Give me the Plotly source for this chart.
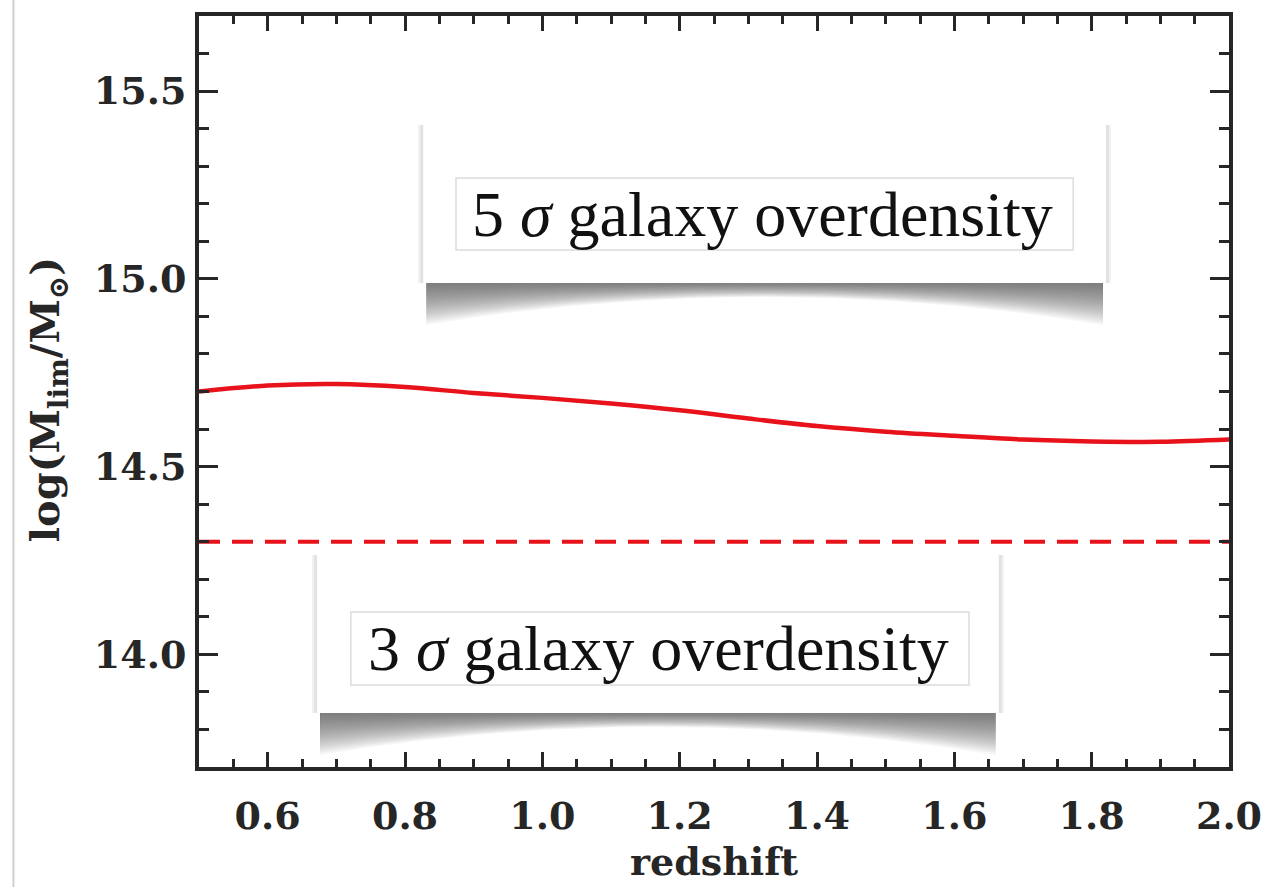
import plotly.graph_objects as go

# ---- data ----
redshift = [0.5, 0.6, 0.7, 0.8, 0.9, 1.0, 1.1, 1.2, 1.3, 1.4, 1.5, 1.6, 1.7, 1.8, 1.9, 2.0]
log_mlim_5sigma = [14.700, 14.716, 14.720, 14.712, 14.696, 14.683, 14.668, 14.650,
                   14.628, 14.608, 14.593, 14.582, 14.572, 14.567, 14.566, 14.572]
dashed_z = [0.5, 2.0]
dashed_level = [14.30, 14.30]
x_tickvals = [0.6, 0.8, 1.0, 1.2, 1.4, 1.6, 1.8, 2.0]
y_tickvals = [14.0, 14.5, 15.0, 15.5]
x_range = [0.5, 2.0]
y_range = [13.7, 15.7]
label_top = "5 <i>σ</i> galaxy overdensity"
label_bottom = "3 <i>σ</i> galaxy overdensity"

W, H = 1274, 887
ML, MR, MT, MB = 199, 37, 16, 120
PW, PH = W - ML - MR, H - MT - MB

def dx(px):
    return x_range[0] + (px - ML) / PW * (x_range[1] - x_range[0])

def dy(py):
    return y_range[1] - (py - MT) / PH * (y_range[1] - y_range[0])

RED = "#e8121b"
AX = "#262626"

fig = go.Figure()
fig.add_trace(go.Scatter(x=redshift, y=log_mlim_5sigma, mode="lines",
                         line=dict(color=RED, width=4.5, shape="spline", smoothing=1.0),
                         showlegend=False, hoverinfo="skip"))
fig.add_trace(go.Scatter(x=dashed_z, y=dashed_level, mode="lines",
                         line=dict(color=RED, width=4, dash="21px,12px"),
                         showlegend=False, hoverinfo="skip"))

shapes = []
annotations = []

def callout(x0, x1, ytop, ybot, ix0, ix1, iy0, iy1, text, tx, ty):
    # soft shadow under the box, curled-page style
    n = 24
    xm = (dx(x0) + dx(x1)) / 2
    for i in range(1, n + 1):
        de = 42 * i / n
        dm = 14 * i / n
        yb = dy(ybot)
        ye = dy(ybot + de)
        ym = dy(ybot + dm)
        yc = 2 * ym - ye
        path = (f"M {dx(x0 + 3)},{yb} L {dx(x1 - 3)},{yb} L {dx(x1 - 3)},{ye} "
                f"Q {xm},{yc} {dx(x0 + 3)},{ye} Z")
        shapes.append(dict(type="path", path=path, xref="x", yref="y",
                           fillcolor="rgba(70,70,70,0.045)", line=dict(width=0),
                           layer="above"))
    # faint side shading
    for k, c in [(5, "#f0f0f0"), (3, "#e2e2e2")]:
        shapes.append(dict(type="rect", xref="x", yref="y",
                           x0=dx(x0 - k), x1=dx(x1 + k), y0=dy(ytop), y1=dy(ybot),
                           fillcolor=c, line=dict(width=0), layer="above"))
    shapes.append(dict(type="rect", xref="x", yref="y",
                       x0=dx(x0), x1=dx(x1), y0=dy(ytop), y1=dy(ybot),
                       fillcolor="white", line=dict(width=0), layer="above"))
    shapes.append(dict(type="rect", xref="x", yref="y",
                       x0=dx(ix0), x1=dx(ix1), y0=dy(iy0), y1=dy(iy1),
                       fillcolor="white", line=dict(color="#dcdcdc", width=1.5),
                       layer="above"))
    annotations.append(dict(x=dx(tx), y=dy(ty), xref="x", yref="y", text=text,
                            showarrow=False, xanchor="center", yanchor="middle",
                            font=dict(family="Liberation Serif", size=64, color="#111")))

callout(425, 1113, 125, 283, 458, 1080, 178, 250, label_top, 767, 214)
callout(318, 1005, 555, 713, 352, 975, 612, 685, label_bottom, 662, 648)

# thin border line at far left of the page
shapes.append(dict(type="line", xref="paper", yref="paper",
                   x0=(12 - ML) / PW, x1=(12 - ML) / PW, y0=-MB / PH, y1=1 + MT / PH,
                   line=dict(color="#cfcfcf", width=2)))

annotations.append(dict(x=0.5, y=-(861 - (MT + PH)) / PH, xref="paper", yref="paper",
                        text="<b>redshift</b>", showarrow=False,
                        xanchor="center", yanchor="middle",
                        font=dict(family="DejaVu Serif", size=38, color=AX)))
annotations.append(dict(x=(46 - ML) / PW, y=(MT + PH - 400) / PH, xref="paper", yref="paper",
                        text="<b>log(M<sub>lim</sub>/M<sub>⊙</sub>)</b>", showarrow=False,
                        textangle=-90, xanchor="center", yanchor="middle",
                        font=dict(family="DejaVu Serif", size=40, color=AX)))

tickfont = dict(family="DejaVu Serif", size=38, color=AX, weight="bold")

fig.update_layout(
    width=W, height=H,
    margin=dict(l=ML, r=MR, t=MT, b=MB, pad=0),
    paper_bgcolor="white", plot_bgcolor="white",
    shapes=shapes, annotations=annotations,
    xaxis=dict(range=x_range, tickvals=x_tickvals, tickformat=".1f",
               showgrid=False, zeroline=False,
               showline=True, linecolor=AX, linewidth=4, mirror="ticks",
               ticks="inside", ticklen=15, tickwidth=3, tickcolor=AX,
               minor=dict(dtick=0.05, tick0=0.5, ticks="inside", ticklen=8,
                          tickwidth=3, tickcolor=AX, showgrid=False),
               tickfont=tickfont, ticklabelstandoff=12),
    yaxis=dict(range=y_range, tickvals=y_tickvals, tickformat=".1f",
               showgrid=False, zeroline=False,
               showline=True, linecolor=AX, linewidth=4, mirror="ticks",
               ticks="inside", ticklen=19, tickwidth=3, tickcolor=AX,
               minor=dict(dtick=0.1, tick0=13.7, ticks="inside", ticklen=10,
                          tickwidth=3, tickcolor=AX, showgrid=False),
               tickfont=tickfont, ticklabelstandoff=1),
)

fig.write_html("out.html")
